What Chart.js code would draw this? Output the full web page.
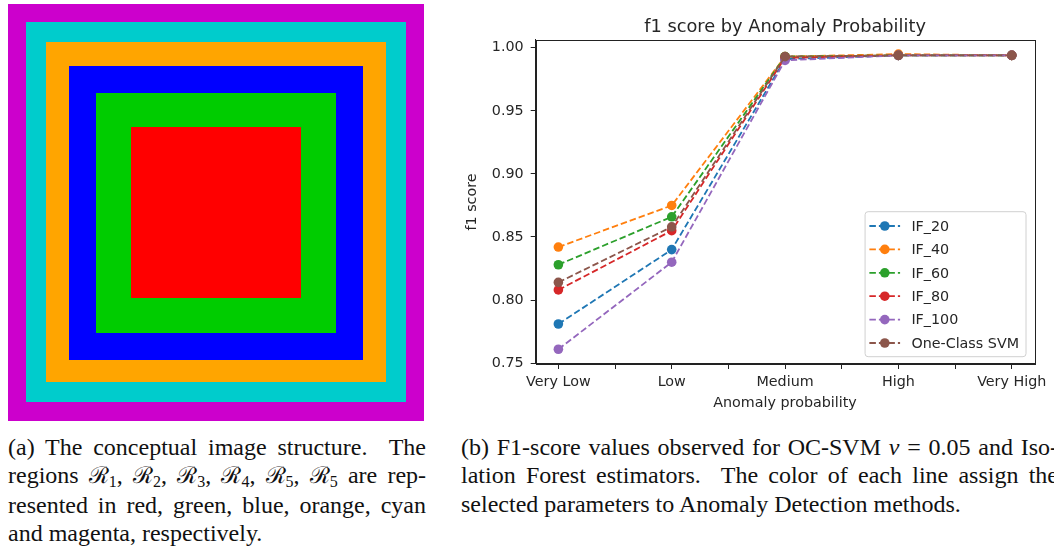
<!DOCTYPE html>
<html>
<head>
<meta charset="utf-8">
<script src="https://cdn.jsdelivr.net/npm/chart.js@4.4.1/dist/chart.umd.min.js"></script>
<style>
  html, body { margin: 0; padding: 0; background: #fff; }
  body { position: relative; width: 1054px; height: 551px; overflow: hidden; }
  .sq { position: absolute; }
  #chartBox { position: absolute; left: 460px; top: 0; width: 594px; height: 420px; }
  .cap { position: absolute; top: 432.7px; font-family: "Liberation Serif", "Times New Roman", serif;
         font-size: 24px; line-height: 28.5px; color: #111; }
  .cap .j { text-align: justify; text-align-last: justify; }
  .cap .r { font-size: 23px; }
  .cap sub { font-size: 16px; vertical-align: -4px; line-height: 0; }
</style>
</head>
<body>

<!-- left panel: nested regions -->
<div class="sq" style="left:8px;top:4px;width:416px;height:417px;background:#cc00cc"></div>
<div class="sq" style="left:26px;top:22px;width:380px;height:380px;background:#00cccc"></div>
<div class="sq" style="left:46px;top:42px;width:340px;height:340px;background:#ffa500"></div>
<div class="sq" style="left:69px;top:66px;width:294px;height:294px;background:#0000ff"></div>
<div class="sq" style="left:96px;top:93px;width:240px;height:240px;background:#00cc00"></div>
<div class="sq" style="left:131px;top:127px;width:170px;height:171px;background:#ff0000"></div>

<div id="chartBox"><canvas id="f1Chart" width="594" height="420"></canvas></div>

<div class="cap" style="left:8px;width:418px">
  <div class="j">(a) The conceptual image structure.&nbsp; The</div>
  <div class="j">regions <span class="r">ℛ</span><sub>1</sub>, <span class="r">ℛ</span><sub>2</sub>, <span class="r">ℛ</span><sub>3</sub>, <span class="r">ℛ</span><sub>4</sub>, <span class="r">ℛ</span><sub>5</sub>, <span class="r">ℛ</span><sub>5</sub> are rep-</div>
  <div class="j">resented in red, green, blue, orange, cyan</div>
  <div>and magenta, respectively.</div>
</div>

<div class="cap" style="left:461px;width:597px">
  <div class="j">(b) F1-score values observed for OC-SVM <i>ν</i> = 0.05 and Iso-</div>
  <div class="j">lation Forest estimators.&nbsp; The color of each line assign the</div>
  <div>selected parameters to Anomaly Detection methods.</div>
</div>

<script>
const categories = ['Very Low', 'Low', 'Medium', 'High', 'Very High'];
const seriesNames = ['IF_20', 'IF_40', 'IF_60', 'IF_80', 'IF_100', 'One-Class SVM'];

const if20  = [0.781, 0.840, 0.991, 0.994, 0.994];
const if40  = [0.842, 0.875, 0.993, 0.995, 0.994];
const if60  = [0.828, 0.866, 0.993, 0.994, 0.994];
const if80  = [0.808, 0.855, 0.992, 0.994, 0.994];
const if100 = [0.761, 0.830, 0.990, 0.994, 0.994];
const ocsvm = [0.814, 0.858, 0.993, 0.994, 0.994];

const yTicks = [0.75, 0.80, 0.85, 0.90, 0.95, 1.00];
const xTicks = [0, 0.5, 1, 1.5, 2, 2.5, 3, 3.5, 4];

const seriesValues = [if20, if40, if60, if80, if100, ocsvm];
const colors = ['#1f77b4', '#ff7f0e', '#2ca02c', '#d62728', '#9467bd', '#8c564b'];

const textColor = '#262626';
const axisFont = { family: 'DejaVu Sans', size: 14.3, weight: 'normal', lineHeight: 1.2 };
const dash = [6.5, 3];

const datasets = seriesNames.map((name, i) => ({
    label: name,
    data: seriesValues[i].map((v, k) => ({ x: k, y: v })),
    borderColor: colors[i],
    backgroundColor: colors[i],
    borderWidth: 1.8,
    borderDash: dash,
    pointRadius: 4.8,
    pointBorderWidth: 0,
    pointBackgroundColor: colors[i],
    tension: 0,
    order: seriesNames.length - i   // later series on top, like matplotlib
}));

// top and right spines
const frame = {
    id: 'frame',
    afterDatasetsDraw(chart) {
        const { ctx, chartArea: a } = chart;
        ctx.save();
        ctx.strokeStyle = '#222';
        ctx.lineWidth = 1;
        ctx.strokeRect(Math.round(a.left) + 0.5, Math.round(a.top) + 0.5,
            Math.round(a.right - a.left), Math.round(a.bottom - a.top));
        ctx.restore();
    }
};

// legend box inside the lower right of the plot
const insideLegend = {
    id: 'insideLegend',
    afterDraw(chart) {
        const { ctx, chartArea: a } = chart;
        const sets = chart.data.datasets;
        ctx.save();
        ctx.font = '14.3px "DejaVu Sans"';
        const textW = Math.max(...sets.map(d => ctx.measureText(d.label).width));
        const rowH = 23.4;
        const w = 46.3 + textW + 7;
        const h = rowH * sets.length + 4.6;
        const x0 = a.right - 8.4 - w;
        const y0 = a.bottom - 7.3 - h;

        ctx.beginPath();
        ctx.roundRect(x0, y0, w, h, 3);
        ctx.fillStyle = 'rgba(255,255,255,0.85)';
        ctx.fill();
        ctx.strokeStyle = '#d0d0d0';
        ctx.lineWidth = 1;
        ctx.stroke();

        sets.forEach((d, i) => {
            const y = y0 + 14.3 + i * rowH;
            ctx.strokeStyle = d.borderColor;
            ctx.lineWidth = 1.8;
            ctx.setLineDash(dash);
            ctx.beginPath();
            ctx.moveTo(x0 + 4.3, y);
            ctx.lineTo(x0 + 35, y);
            ctx.stroke();
            ctx.setLineDash([]);
            ctx.fillStyle = d.borderColor;
            ctx.beginPath();
            ctx.arc(x0 + 19.7, y, 4.8, 0, Math.PI * 2);
            ctx.fill();
            ctx.fillStyle = textColor;
            ctx.textBaseline = 'middle';
            ctx.textAlign = 'left';
            ctx.fillText(d.label, x0 + 46.3, y + 1);
        });
        ctx.restore();
    }
};

new Chart(document.getElementById('f1Chart'), {
    type: 'line',
    data: { datasets },
    options: {
        responsive: false,
        animation: false,
        devicePixelRatio: 1,
        layout: { padding: { left: 0, right: 19.6, top: 0, bottom: 0 } },
        plugins: {
            legend: { display: false },
            tooltip: { enabled: false },
            title: {
                display: true,
                fullSize: false,   // centre over the plot area
                text: 'f1 score by Anomaly Probability',
                color: textColor,
                font: { family: 'DejaVu Sans', size: 17.8, weight: 'normal', lineHeight: 1.2 },
                padding: { top: 16.8, bottom: 1.8 }
            }
        },
        scales: {
            x: {
                type: 'linear',
                min: -0.2,
                max: 4.2,
                afterBuildTicks: s => { s.ticks = xTicks.map(v => ({ value: v })); },
                afterFit: s => { s.height = 56; },
                ticks: {
                    autoSkip: false,
                    maxRotation: 0,
                    minRotation: 0,
                    padding: 5,
                    color: textColor,
                    font: axisFont,
                    callback: v => Number.isInteger(v) ? categories[v] : ''
                },
                grid: { drawOnChartArea: false, tickLength: 5, color: '#222' },
                border: { color: '#222' },
                title: {
                    display: true,
                    text: 'Anomaly probability',
                    color: textColor,
                    font: axisFont,
                    padding: { top: 0, bottom: 8.4 }
                }
            },
            y: {
                min: 0.7493,
                max: 1.0062,
                afterBuildTicks: s => { s.ticks = yTicks.map(v => ({ value: v })); },
                afterFit: s => { s.width = 75.7; },
                ticks: {
                    padding: 7,
                    color: textColor,
                    font: axisFont,
                    callback: v => v.toFixed(2)
                },
                grid: { drawOnChartArea: false, tickLength: 5, color: '#222' },
                border: { color: '#222' },
                title: {
                    display: true,
                    text: 'f1 score',
                    color: textColor,
                    font: axisFont,
                    padding: { top: 3.4, bottom: 0 }
                }
            }
        }
    },
    plugins: [frame, insideLegend]
});
</script>
</body>
</html>
